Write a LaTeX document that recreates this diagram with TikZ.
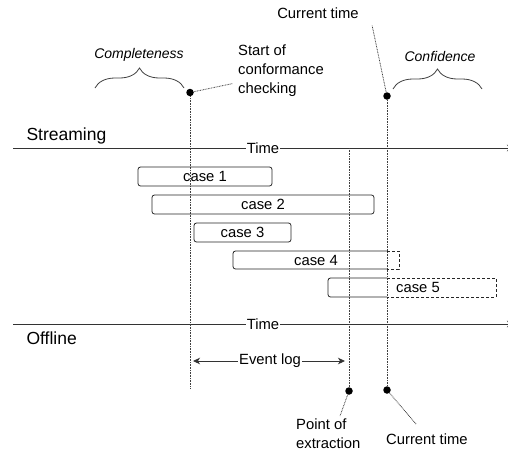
\documentclass[tikz,border=0pt]{standalone}
\usepackage{fontspec}
\setmainfont{Liberation Sans}
\usetikzlibrary{decorations.pathreplacing,arrows.meta}
\begin{document}
\begin{tikzpicture}[x=1pt,y=-1pt,
  font=\fontsize{14.8}{19}\selectfont,
  axis/.style={line width=0.9pt, draw=black!80},
  guide/.style={line width=0.8pt, dash pattern=on 0.8pt off 0.8pt, draw=black!75},
  casebox/.style={draw=black!85, rounded corners=2.5pt, line width=0.8pt, minimum height=19pt, inner sep=0pt},
  caseline/.style={draw=black!85, line width=0.8pt, rounded corners=2.5pt},
  casedash/.style={draw=black!85, line width=0.8pt, dash pattern=on 3pt off 2pt},
  dot/.style={circle, fill=black, inner sep=0pt, minimum size=7.5pt},
  bigtext/.style={font=\fontsize{17.5}{20}\selectfont},
  bracestyle/.style={draw=black!75, line width=0.8pt, decorate, decoration={brace, amplitude=20pt}},
  timelbl/.style={fill=white, inner sep=1pt},
  tip/.style={-{Stealth[length=7pt,width=6.5pt,inset=2pt]}}
]
\useasboundingbox (0,0) rectangle (508,456);

% section labels
\node[bigtext, anchor=west] (stream) at (23,136) {Streaming};
\node[bigtext, anchor=west] (offline) at (23,338) {Offline};

% time axes
\coordinate (sa) at (13,148);
\coordinate (sb) at (514,148);
\node[timelbl] (st) at (263,148) {Time};
\draw[axis] (sa) -- (st.west);
\draw[axis, tip] (st.east) -- (sb);

\coordinate (oa) at (13,324);
\coordinate (ob) at (514,324);
\node[timelbl] (ot) at (263,324) {Time};
\draw[axis] (oa) -- (ot.west);
\draw[axis, tip] (ot.east) -- (ob);

% dots
\node[dot] (d1) at (190,92.5) {};
\node[dot] (d3) at (387,96) {};
\node[dot] (b2) at (349,391) {};
\node[dot] (b3) at (387,390) {};
\coordinate (e1) at (190,389);
\coordinate (s2) at (349,148);

% vertical guides
\draw[guide] (d1) -- (e1);
\draw[guide] (s2) -- (b2);
\draw[guide] (d3) -- (b3);

% top annotations
\node[anchor=north west, align=left, inner sep=0pt] (start) at (238,45) {Start of\\conformance\\checking};
\draw[guide] (d1) -- (233,83.5);
\node (ctop) at (318,13) {Current time};
\draw[guide] (d3) -- (372,25);

\node[font=\fontsize{14}{17}\itshape] (compl) at (139,55) {Completeness};
\node[font=\fontsize{14}{17}\itshape] (conf) at (440,56) {Confidence};
\coordinate (br1a) at (95,88);
\coordinate (br1b) at (184,88);
\coordinate (br2a) at (393,89);
\coordinate (br2b) at (482,89);
\draw[bracestyle] (br1a) -- (br1b);
\draw[bracestyle] (br2a) -- (br2b);

% cases
\node[casebox, minimum width=134pt] (c1) at (205,176.5) {case 1};
\node[casebox, minimum width=222pt] (c2) at (263,204.5) {case 2};
\node[casebox, minimum width=97pt] (c3) at (242.5,232.5) {case 3};

\node (c4) at (316,260) {case 4};
\draw[caseline] (387,251) -- (233,251) -- (233,269) -- (387,269);
\draw[casedash] (387,251) -- (399,251) -- (399,269) -- (387,269);

\node (c5) at (418,287.5) {case 5};
\draw[caseline] (387,278) -- (328,278) -- (328,297) -- (387,297);
\draw[casedash] (387,278) -- (496,278) -- (496,297) -- (387,297);

% event log
\coordinate (la) at (193,361);
\coordinate (lb) at (345,361);
\node[timelbl] (elog) at (270,361) {Event log};
\draw[axis, tip] (elog.west) -- (la);
\draw[axis, tip] (elog.east) -- (lb);

% bottom annotations
\node[anchor=north west, align=left, inner sep=0pt] (poe) at (296,419) {Point of\\extraction};
\draw[guide] (b2) -- (340,416);
\node[anchor=west, inner sep=0pt] (cbot) at (386,439) {Current time};
\draw[guide] (b3) -- (416,424);
\end{tikzpicture}
\end{document}
